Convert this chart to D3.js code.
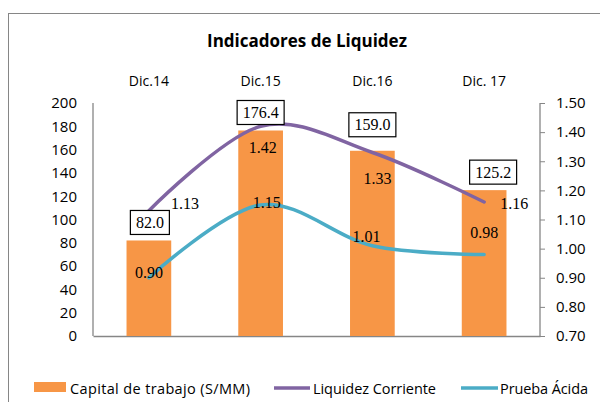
<!DOCTYPE html>
<html lang="es">
<head>
    <meta charset="utf-8">
    <title>Indicadores de Liquidez</title>
    <script src="https://cdn.jsdelivr.net/npm/d3@7"></script>
    <style>
      body { margin: 0; background: #fff; }
      svg text { fill: #000; }
    </style>
</head>
<body>
  <script>
    var w = 600;
    var h = 402;

    // data
    var categories = ["Dic.14", "Dic.15", "Dic.16", "Dic. 17"];
    var capital = [82.0, 176.4, 159.0, 125.2];
    var liquidez = [1.13, 1.42, 1.33, 1.16];
    var prueba = [0.90, 1.15, 1.01, 0.98];
    var leftTicks = [0, 20, 40, 60, 80, 100, 120, 140, 160, 180, 200];
    var rightTicks = [0.70, 0.80, 0.90, 1.00, 1.10, 1.20, 1.30, 1.40, 1.50];

    // hand placed label nudges (dx, dy) like in the original sheet
    var liqNudge = [[36, -7], [2, 21], [5, 26], [30, 1]];
    var pruNudge = [[0, -5], [6, -3], [-6, -9], [0, -22]];
    var boxNudge = [[1, -18], [0, -18], [0, -26], [9, -18]];

    var orange = "#F79646", purple = "#8064A2", teal = "#4BACC6", axisGray = "#868686";
    var sans = "'Open Sans', 'Noto Sans', sans-serif";
    var serif = "'Liberation Serif', 'DejaVu Serif', serif";

    // plot area
    var pLeft = 93, pRight = 540, pTop = 103, pBottom = 336;

    var svg = d3.select("body")
                .append("svg")
                .attr("width", w)
                .attr("height", h);

    // chart frame (runs off the right and bottom edges)
    svg.append("rect")
       .attr("x", 8.5).attr("y", 13.5)
       .attr("width", 700).attr("height", 500)
       .attr("fill", "none")
       .attr("stroke", axisGray)
       .attr("stroke-width", 1);

    svg.append("text")
       .attr("x", 307)
       .attr("y", 47)
       .attr("text-anchor", "middle")
       .attr("font-family", sans)
       .attr("font-weight", "bold")
       .attr("font-size", 17)
       .text("Indicadores de Liquidez");

    var x = d3.scaleBand().domain(categories).range([pLeft, pRight]);
    var yL = d3.scaleLinear().domain([0, 200]).range([pBottom, pTop]);
    var yR = d3.scaleLinear().domain([0.7, 1.5]).range([pBottom, pTop]);
    var barW = x.bandwidth() * 0.4;
    var cx = function(i) { return x(categories[i]) + x.bandwidth() / 2; };

    // axes
    var axL = svg.append("g")
                 .attr("transform", "translate(" + pLeft + ",0)")
                 .call(d3.axisLeft(yL).tickValues(leftTicks).tickSize(0).tickPadding(16));
    var axR = svg.append("g")
                 .attr("transform", "translate(" + pRight + ",0)")
                 .call(d3.axisRight(yR).tickValues(rightTicks).tickSize(5).tickPadding(11)
                       .tickFormat(d3.format(".2f")));
    var axB = svg.append("g")
                 .attr("transform", "translate(0," + pBottom + ")")
                 .call(d3.axisBottom(x).tickSize(0).tickFormat(""));
    [axL, axR, axB].forEach(function(g) {
      g.select(".domain").attr("stroke", axisGray).attr("stroke-width", 1.3);
      g.selectAll(".tick line").attr("stroke", axisGray);
      g.selectAll("text").attr("font-family", sans).attr("font-size", 15).attr("fill", "#000");
    });
    axL.select(".domain").attr("d", "M0," + pTop + "V" + pBottom);
    axR.select(".domain").attr("d", "M0," + pTop + "V" + pBottom);

    // category labels on top
    svg.append("g").selectAll("text")
       .data(categories)
       .enter()
       .append("text")
       .attr("x", function(d) { return x(d) + x.bandwidth() / 2; })
       .attr("y", 86)
       .attr("text-anchor", "middle")
       .attr("font-family", sans)
       .attr("font-size", 14)
       .text(function(d) { return d; });

    // bars
    svg.append("g").selectAll("rect")
       .data(capital)
       .enter()
       .append("rect")
       .attr("x", function(d, i) { return cx(i) - barW / 2; })
       .attr("y", function(d) { return yL(d); })
       .attr("width", barW)
       .attr("height", function(d) { return pBottom - yL(d); })
       .attr("fill", orange);

    // lines
    var mkLine = function(vals) {
      return d3.line()
               .x(function(d, i) { return cx(i); })
               .y(function(d) { return yR(d); })
               .curve(d3.curveCatmullRom.alpha(0))(vals);
    };
    svg.append("path").attr("d", mkLine(liquidez))
       .attr("fill", "none").attr("stroke", purple).attr("stroke-width", 3.5)
       .attr("stroke-linecap", "round");
    svg.append("path").attr("d", mkLine(prueba))
       .attr("fill", "none").attr("stroke", teal).attr("stroke-width", 3.5)
       .attr("stroke-linecap", "round");

    // boxed bar labels
    var boxes = svg.append("g").selectAll("g")
                   .data(capital)
                   .enter()
                   .append("g")
                   .attr("transform", function(d, i) {
                     return "translate(" + (cx(i) + boxNudge[i][0]) + "," + (yL(d) + boxNudge[i][1]) + ")";
                   });
    boxes.append("text")
         .attr("text-anchor", "middle")
         .attr("dy", "0.35em")
         .attr("font-family", serif)
         .attr("font-size", 16)
         .text(function(d) { return d3.format(".1f")(d); });
    boxes.each(function() {
      var g = d3.select(this);
      var bb = g.select("text").node().getBBox();
      g.insert("rect", "text")
       .attr("x", -bb.width / 2 - 5.5)
       .attr("y", -12)
       .attr("width", bb.width + 11)
       .attr("height", 24)
       .attr("fill", "#fff")
       .attr("stroke", "#000")
       .attr("stroke-width", 1.2);
    });

    // line value labels
    var addLabels = function(vals, nudge) {
      svg.append("g").selectAll("text")
         .data(vals)
         .enter()
         .append("text")
         .attr("x", function(d, i) { return cx(i) + nudge[i][0]; })
         .attr("y", function(d, i) { return yR(d) + nudge[i][1]; })
         .attr("dy", "0.35em")
         .attr("text-anchor", "middle")
         .attr("font-family", serif)
         .attr("font-size", 16)
         .text(function(d) { return d3.format(".2f")(d); });
    };
    addLabels(liquidez, liqNudge);
    addLabels(prueba, pruNudge);

    // legend
    var legend = svg.append("g").attr("font-family", sans).attr("font-size", 14.5);
    legend.append("rect").attr("x", 34).attr("y", 382).attr("width", 32).attr("height", 10).attr("fill", orange);
    legend.append("text").attr("x", 70).attr("y", 394)
          .attr("textLength", 180).attr("lengthAdjust", "spacing")
          .text("Capital de trabajo (S/MM)");
    legend.append("line").attr("x1", 274).attr("x2", 310).attr("y1", 388).attr("y2", 388)
          .attr("stroke", purple).attr("stroke-width", 3.5);
    legend.append("text").attr("x", 313).attr("y", 394)
          .attr("textLength", 123).attr("lengthAdjust", "spacing")
          .text("Liquidez Corriente");
    legend.append("line").attr("x1", 461).attr("x2", 498).attr("y1", 388).attr("y2", 388)
          .attr("stroke", teal).attr("stroke-width", 3.5);
    legend.append("text").attr("x", 500).attr("y", 394)
          .attr("textLength", 88).attr("lengthAdjust", "spacing")
          .text("Prueba Ácida");
  </script>
</body>
</html>
